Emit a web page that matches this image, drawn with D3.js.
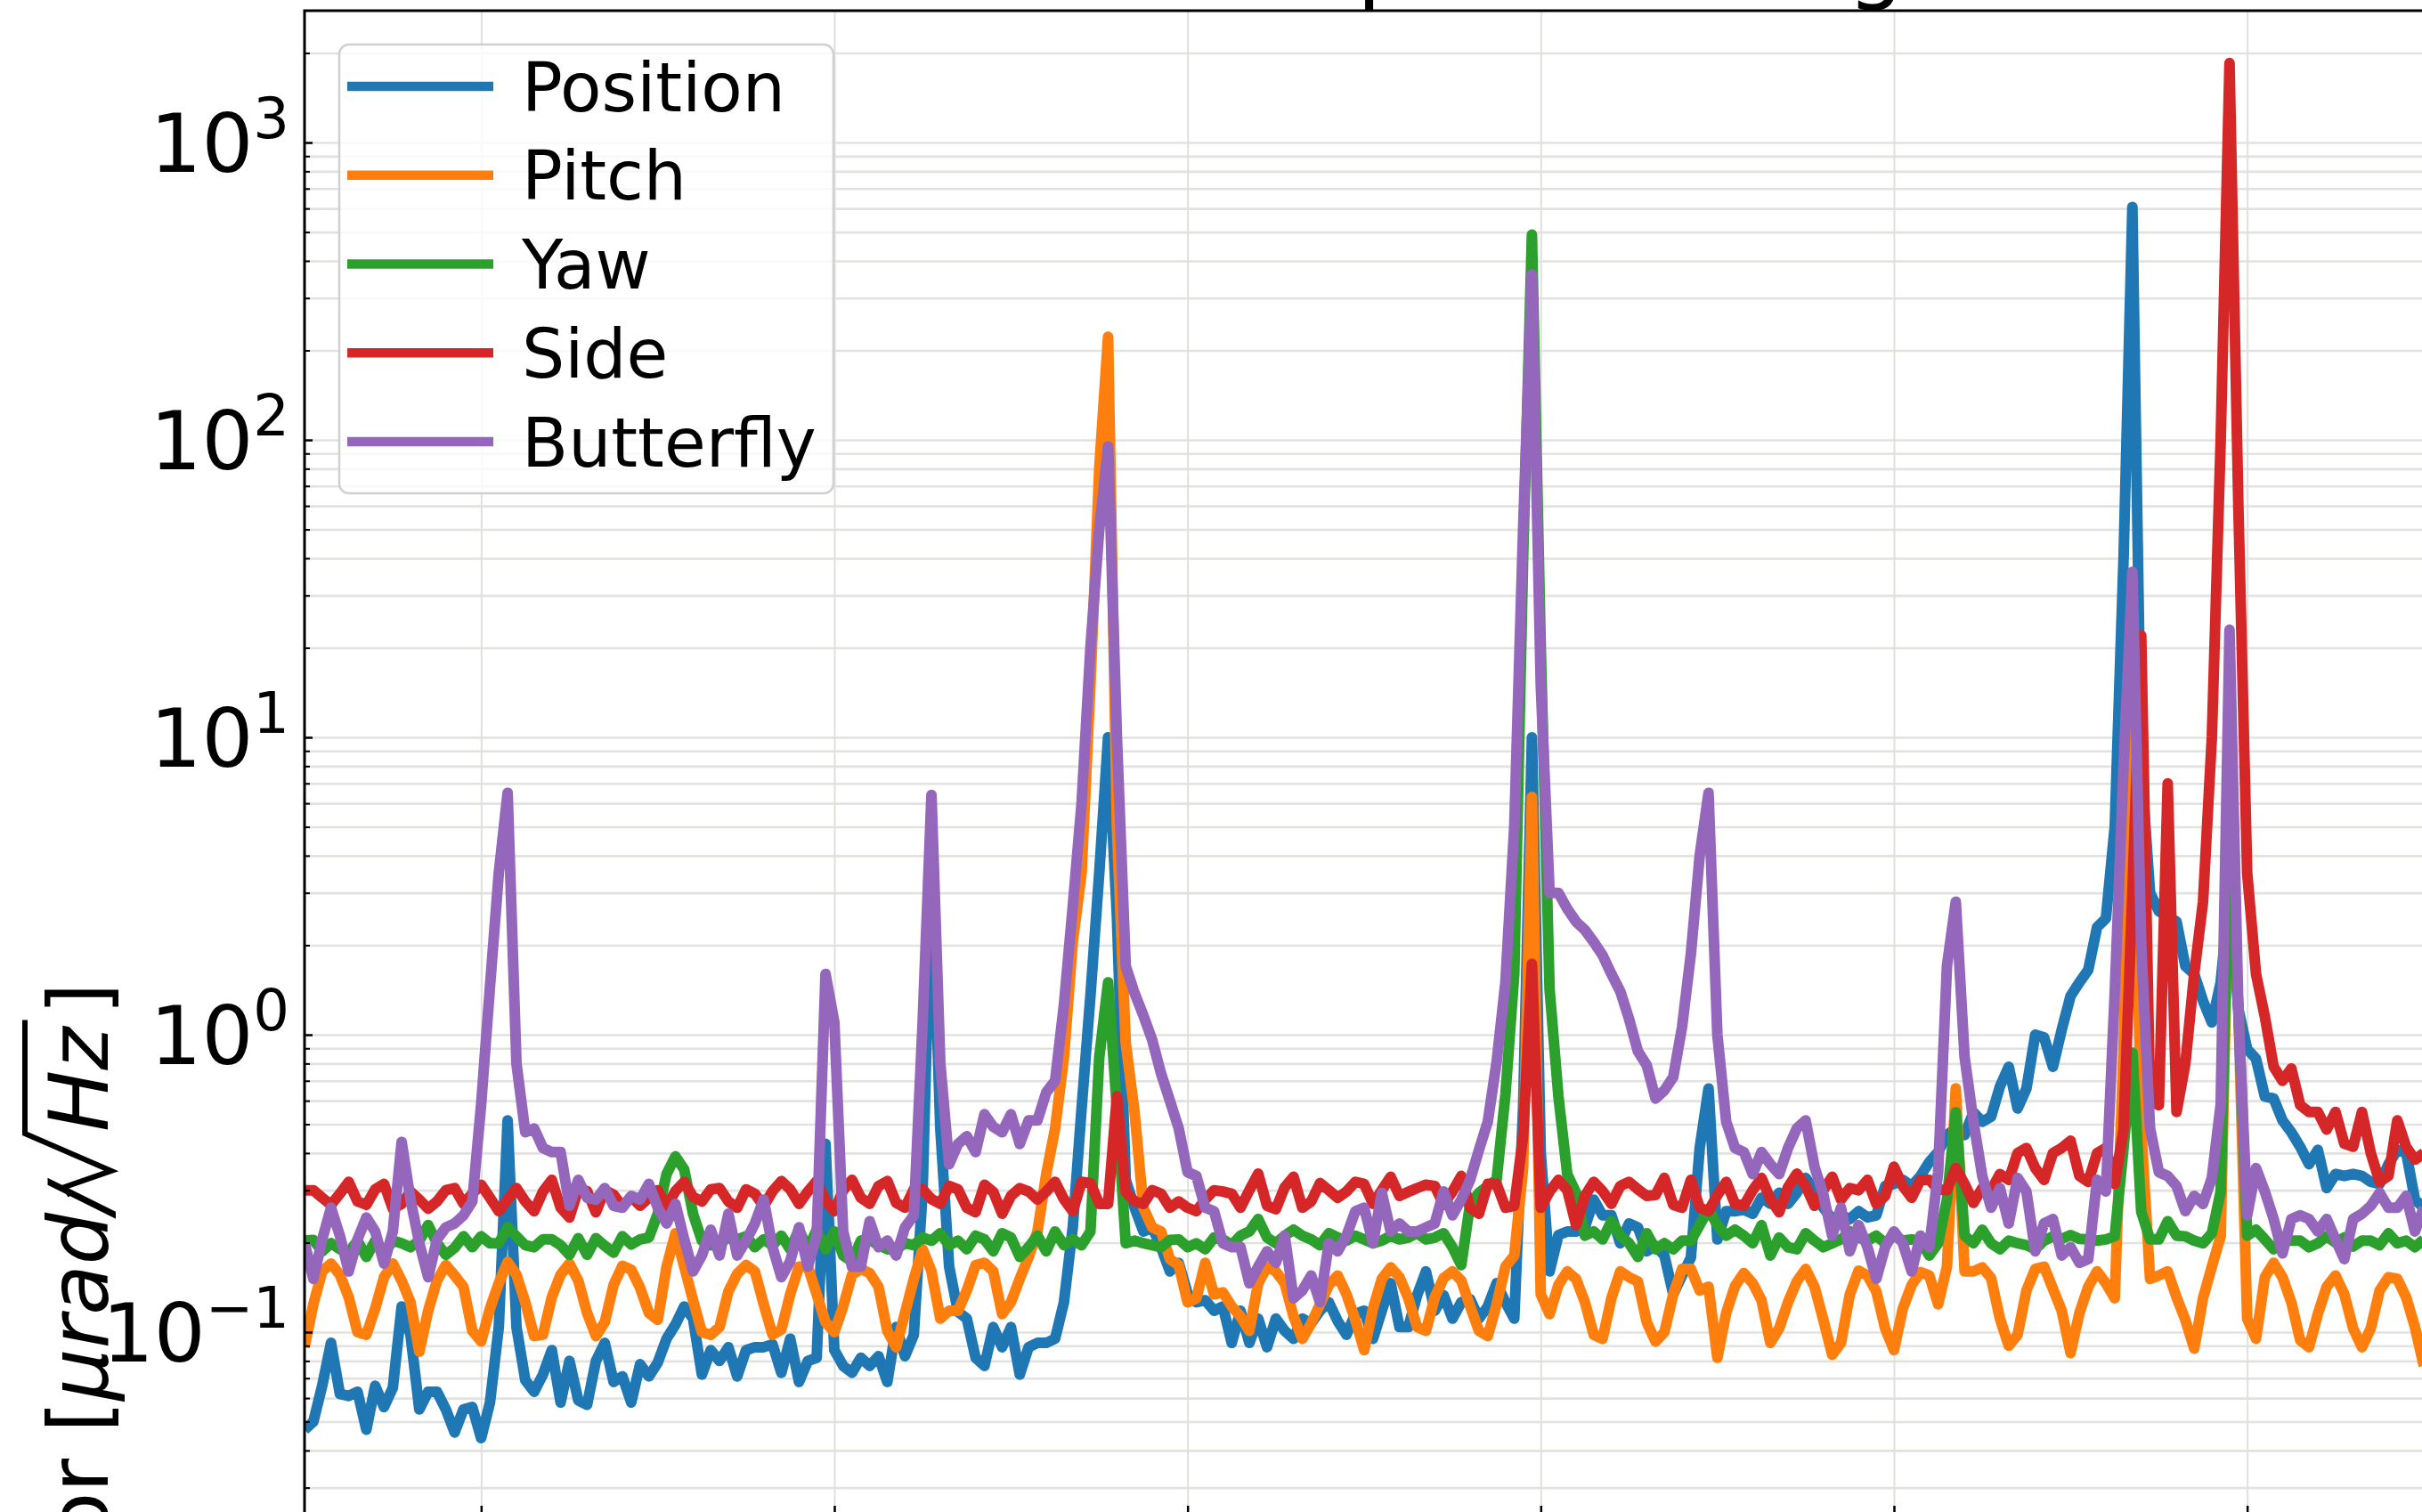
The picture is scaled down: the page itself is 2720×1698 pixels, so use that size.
<!DOCTYPE html>
<html>
<head>
<meta charset="utf-8">
<script src="https://cdn.jsdelivr.net/npm/d3@7"></script>
<style>
  body { margin: 0; background: #fff; }
  svg { display: block; font-family: 'DejaVu Sans', sans-serif; }
</style>
</head>
<body>
<div class="canvas"></div>
<script>
// frequency bins [Hz]
const freqStart = 5, freqStep = 0.25, nBins = 241
const freqs = d3.range(nBins).map(i => freqStart + i * freqStep)

// amplitude spectral densities
const position = [
  0.047, 0.050, 0.066, 0.092, 0.062, 0.061, 0.063, 0.047, 0.066, 0.056,
  0.065, 0.122, 0.098, 0.055, 0.063, 0.063, 0.055, 0.046, 0.055, 0.056,
  0.044, 0.058, 0.104, 0.515, 0.104, 0.069, 0.063, 0.072, 0.087, 0.058,
  0.080, 0.059, 0.057, 0.080, 0.092, 0.068, 0.071, 0.058, 0.078, 0.071,
  0.079, 0.095, 0.106, 0.122, 0.111, 0.072, 0.087, 0.080, 0.089, 0.071,
  0.087,
  0.089, 0.089, 0.091, 0.073, 0.095, 0.068, 0.080, 0.082, 0.43, 0.087,
  0.077, 0.073, 0.082, 0.077, 0.083, 0.068, 0.104, 0.083, 0.098, 0.30,
  4.0, 0.484, 0.166, 0.117, 0.111, 0.082, 0.077, 0.104, 0.089, 0.104,
  0.072, 0.089, 0.092, 0.092, 0.095, 0.126, 0.225, 0.565, 1.35, 3.5,
  10, 2.5, 0.325, 0.262, 0.218, 0.225, 0.193, 0.16,
  0.171, 0.135, 0.126, 0.128, 0.118, 0.122, 0.092, 0.118, 0.092, 0.111,
  0.089, 0.111, 0.101, 0.095, 0.111, 0.107, 0.118, 0.126, 0.109, 0.098,
  0.115, 0.118, 0.095, 0.118, 0.146, 0.104, 0.104, 0.133, 0.160, 0.118,
  0.133, 0.111, 0.126, 0.129, 0.111, 0.122, 0.146, 0.126, 0.111, 0.565,
  10, 0.40, 0.16, 0.212, 0.218, 0.218, 0.225, 0.279, 0.247,
  0.247, 0.199, 0.232, 0.225, 0.187, 0.195, 0.181, 0.134, 0.155, 0.178,
  0.416, 0.659, 0.205, 0.255, 0.255, 0.258, 0.25, 0.283, 0.27, 0.294,
  0.27, 0.294, 0.33, 0.30, 0.262, 0.24, 0.247, 0.24, 0.255, 0.243,
  0.247, 0.31, 0.315, 0.325, 0.31, 0.335, 0.373, 0.403, 0.46, 0.484,
  0.46, 0.548, 0.51, 0.53, 0.67, 0.78,
  0.565, 0.659, 1.0, 0.98, 0.78, 1.04, 1.35, 1.5, 1.65, 2.3,
  2.46, 5, 40, 607, 8, 3.0, 2.6, 2.5, 2.4, 1.7,
  1.6, 1.3, 1.1, 1.5, 3, 1.22, 0.895, 0.83, 0.62, 0.61,
  0.515, 0.47, 0.42, 0.367, 0.41, 0.305, 0.34, 0.335, 0.34, 0.335,
  0.32, 0.315, 0.367, 0.41, 0.403, 0.279, 0.262
]

const pitch = [
  0.089, 0.124, 0.16, 0.17, 0.156, 0.131, 0.1, 0.098, 0.12, 0.153,
  0.17, 0.149, 0.126, 0.086, 0.118, 0.149, 0.168, 0.155, 0.142, 0.101,
  0.093, 0.12, 0.146, 0.172, 0.156, 0.126, 0.097, 0.098, 0.131, 0.156,
  0.17, 0.149, 0.116, 0.097, 0.108, 0.144, 0.167, 0.162, 0.141, 0.116,
  0.11, 0.166, 0.215, 0.166, 0.128, 0.1, 0.098, 0.104, 0.137, 0.157,
  0.168,
  0.16, 0.124, 0.098, 0.102, 0.134, 0.166, 0.166, 0.134, 0.108, 0.1,
  0.122, 0.156, 0.163, 0.158, 0.142, 0.101, 0.089, 0.116, 0.151, 0.19,
  0.16, 0.111, 0.118, 0.118, 0.138, 0.168, 0.171, 0.16, 0.115, 0.126,
  0.151, 0.179, 0.218, 0.34, 0.484, 0.84, 2.05, 3.5, 15, 80,
  222, 5, 0.94, 0.548, 0.262, 0.225, 0.218, 0.176,
  0.168, 0.126, 0.13, 0.171, 0.134, 0.136, 0.122, 0.113, 0.101, 0.146,
  0.166, 0.16, 0.146, 0.113, 0.095, 0.107, 0.124, 0.144, 0.155, 0.134,
  0.11, 0.087, 0.12, 0.151, 0.165, 0.153, 0.13, 0.104, 0.101, 0.131,
  0.152, 0.16, 0.149, 0.122, 0.101, 0.097, 0.124, 0.166, 0.181, 0.356,
  6.3, 0.134, 0.115, 0.144, 0.16, 0.151, 0.126, 0.098, 0.095,
  0.13, 0.16, 0.153, 0.148, 0.108, 0.093, 0.1, 0.134, 0.163, 0.163,
  0.138, 0.142, 0.082, 0.116, 0.143, 0.158, 0.146, 0.128, 0.092, 0.103,
  0.126, 0.148, 0.163, 0.142, 0.11, 0.084, 0.092, 0.134, 0.161, 0.155,
  0.137, 0.103, 0.087, 0.12, 0.144, 0.159, 0.155, 0.124, 0.166, 0.66,
  0.16, 0.16, 0.165, 0.152, 0.111, 0.09,
  0.098, 0.138, 0.163, 0.166, 0.14, 0.118, 0.085, 0.116, 0.142, 0.16,
  0.146, 0.13, 0.9, 14, 0.48, 0.151, 0.155, 0.16, 0.131, 0.11,
  0.088, 0.13, 0.166, 0.21, 5, 1.22, 0.111, 0.095, 0.153, 0.171,
  0.153, 0.126, 0.094, 0.089, 0.115, 0.142, 0.155, 0.134, 0.103, 0.089,
  0.103, 0.138, 0.153, 0.151, 0.131, 0.104, 0.077
]

const yaw = [
  0.203, 0.204, 0.187, 0.199, 0.19, 0.185, 0.203, 0.179, 0.203, 0.184,
  0.203, 0.199, 0.193, 0.203, 0.229, 0.199, 0.182, 0.192, 0.21, 0.193,
  0.21, 0.199, 0.199, 0.225, 0.21, 0.196, 0.193, 0.205, 0.205, 0.196,
  0.182, 0.207, 0.182, 0.207, 0.195, 0.185, 0.21, 0.197, 0.205, 0.208,
  0.25, 0.34, 0.39, 0.352, 0.25, 0.203, 0.196, 0.199, 0.208, 0.205,
  0.21,
  0.193, 0.205, 0.196, 0.211, 0.19, 0.221, 0.19, 0.221, 0.19, 0.218,
  0.181, 0.173, 0.203, 0.205, 0.196, 0.19, 0.19, 0.199, 0.196, 0.208,
  0.203, 0.215, 0.196, 0.203, 0.19, 0.211, 0.205, 0.187, 0.215, 0.208,
  0.179, 0.193, 0.211, 0.187, 0.218, 0.196, 0.205, 0.196, 0.218, 0.84,
  1.5, 0.565, 0.199, 0.203, 0.199, 0.196, 0.193, 0.204,
  0.205, 0.193, 0.199, 0.19, 0.208, 0.205, 0.196, 0.211, 0.218, 0.24,
  0.208, 0.199, 0.211, 0.221, 0.211, 0.205, 0.196, 0.215, 0.208, 0.203,
  0.211, 0.205, 0.199, 0.203, 0.211, 0.205, 0.208, 0.215, 0.205, 0.208,
  0.215, 0.193, 0.168, 0.27, 0.294, 0.31, 0.325, 0.63, 1.6, 40,
  490, 20, 1.42, 0.62, 0.34, 0.294, 0.211, 0.218, 0.205,
  0.236, 0.211, 0.199, 0.179, 0.215, 0.19, 0.199, 0.19, 0.203, 0.203,
  0.229, 0.259, 0.229, 0.211, 0.221, 0.211, 0.199, 0.229, 0.181, 0.208,
  0.193, 0.19, 0.215, 0.203, 0.193, 0.199, 0.205, 0.218, 0.208, 0.203,
  0.211, 0.199, 0.211, 0.203, 0.205, 0.203, 0.181, 0.199, 0.279, 0.548,
  0.211, 0.199, 0.221, 0.199, 0.19, 0.203,
  0.199, 0.196, 0.19, 0.203, 0.21, 0.206, 0.212, 0.206, 0.205, 0.203,
  0.205, 0.21, 0.416, 0.87, 0.254, 0.205, 0.205, 0.236, 0.211, 0.21,
  0.203, 0.199, 0.215, 0.297, 5, 1.22, 0.211, 0.221, 0.205, 0.19,
  0.204, 0.203, 0.203, 0.193, 0.199, 0.21, 0.2, 0.208, 0.194, 0.203,
  0.203, 0.196, 0.215, 0.199, 0.203, 0.193, 0.205
]

const side = [
  0.3, 0.3, 0.283, 0.268, 0.292, 0.32, 0.275, 0.268, 0.302, 0.315,
  0.26, 0.27, 0.297, 0.279, 0.26, 0.275, 0.3, 0.305, 0.27, 0.292,
  0.313, 0.283, 0.255, 0.279, 0.305, 0.275, 0.255, 0.297, 0.325, 0.262,
  0.243, 0.302, 0.298, 0.253, 0.3, 0.29, 0.264, 0.285, 0.266, 0.283,
  0.3, 0.264, 0.298, 0.32, 0.285, 0.275, 0.302, 0.305, 0.275, 0.262,
  0.302,
  0.292, 0.265, 0.298, 0.322, 0.302, 0.27, 0.297, 0.322, 0.277, 0.255,
  0.3, 0.325, 0.283, 0.27, 0.31, 0.322, 0.272, 0.262, 0.302, 0.302,
  0.28, 0.27, 0.31, 0.302, 0.262, 0.253, 0.313, 0.296, 0.25, 0.287,
  0.305, 0.297, 0.279, 0.297, 0.32, 0.28, 0.255, 0.32, 0.317, 0.27,
  0.27, 0.62, 0.296, 0.275, 0.27, 0.3, 0.292, 0.262,
  0.275, 0.262, 0.255, 0.279, 0.3, 0.297, 0.292, 0.262, 0.3, 0.341,
  0.266, 0.259, 0.307, 0.333, 0.262, 0.275, 0.317, 0.3, 0.283, 0.297,
  0.32, 0.315, 0.27, 0.3, 0.333, 0.287, 0.296, 0.305, 0.313, 0.31,
  0.268, 0.297, 0.335, 0.262, 0.25, 0.315, 0.315, 0.262, 0.266, 0.456,
  1.73, 0.262, 0.297, 0.325, 0.3, 0.229, 0.287, 0.32, 0.298,
  0.27, 0.31, 0.32, 0.302, 0.287, 0.289, 0.33, 0.268, 0.262, 0.325,
  0.262, 0.255, 0.289, 0.32, 0.27, 0.266, 0.3, 0.33, 0.28, 0.253,
  0.307, 0.341, 0.31, 0.266, 0.3, 0.333, 0.279, 0.305, 0.3, 0.325,
  0.27, 0.287, 0.36, 0.31, 0.283, 0.325, 0.325, 0.302, 0.3, 0.356,
  0.315, 0.272, 0.305, 0.3, 0.34, 0.325,
  0.4, 0.416, 0.356, 0.325, 0.4, 0.416, 0.44, 0.335, 0.32, 0.4,
  0.416, 0.315, 0.48, 3, 22, 0.6, 0.58, 7, 0.55, 0.8,
  1.6, 2.8, 10, 100, 1850, 60, 3.5, 1.6, 1.15, 0.78,
  0.7, 0.77, 0.58, 0.55, 0.55, 0.48, 0.55, 0.43, 0.42, 0.55,
  0.4, 0.32, 0.335, 0.515, 0.42, 0.38, 0.4
]

const butterfly = [
  0.2, 0.151, 0.205, 0.262, 0.211, 0.16, 0.205, 0.243, 0.218, 0.17,
  0.218, 0.436, 0.279, 0.199, 0.153, 0.205, 0.225, 0.232, 0.247, 0.275,
  0.582, 1.45, 3.5, 6.5, 0.8, 0.47, 0.484, 0.416, 0.403, 0.403,
  0.266, 0.325, 0.283, 0.279, 0.305, 0.266, 0.262, 0.287, 0.279, 0.315,
  0.262, 0.232, 0.27, 0.205, 0.16, 0.181, 0.221, 0.181, 0.25, 0.181,
  0.203,
  0.232, 0.279, 0.193, 0.153, 0.173, 0.225, 0.166, 0.211, 1.6, 1.1,
  0.218, 0.166, 0.166, 0.236, 0.193, 0.203, 0.181, 0.225, 0.247, 1.1,
  6.4, 0.8, 0.367, 0.429, 0.456, 0.403, 0.54, 0.49, 0.47, 0.54,
  0.429, 0.515, 0.515, 0.64, 0.7, 1.26, 2.7, 6, 20, 50,
  95, 10, 1.7, 1.38, 1.16, 0.96, 0.74, 0.6,
  0.484, 0.345, 0.335, 0.262, 0.255, 0.199, 0.193, 0.193, 0.146, 0.166,
  0.187, 0.171, 0.211, 0.13, 0.138, 0.155, 0.126, 0.199, 0.187, 0.211,
  0.255, 0.262, 0.199, 0.294, 0.218, 0.232, 0.218, 0.218, 0.225, 0.232,
  0.297, 0.247, 0.279, 0.325, 0.41, 0.51, 0.81, 1.5, 5, 50,
  360, 15, 3.0, 3.0, 2.65, 2.4, 2.25, 2.05, 1.85,
  1.6, 1.4, 1.13, 0.88, 0.79, 0.61, 0.65, 0.72, 1.06, 1.87,
  4, 6.5, 1.0, 0.51, 0.416, 0.403, 0.34, 0.403, 0.367, 0.34,
  0.416, 0.484, 0.515, 0.36, 0.29, 0.211, 0.262, 0.187, 0.229, 0.193,
  0.151, 0.193, 0.218, 0.199, 0.16, 0.211, 0.193, 0.345, 1.7, 2.8,
  0.84, 0.51, 0.335, 0.262, 0.305, 0.232,
  0.33, 0.297, 0.187, 0.232, 0.24, 0.181, 0.193, 0.171, 0.176, 0.325,
  0.297, 1.38, 8, 36, 2.0, 0.484, 0.345, 0.335, 0.31, 0.255,
  0.287, 0.27, 0.33, 0.582, 23, 1.22, 0.247, 0.356, 0.297, 0.24,
  0.184, 0.24, 0.247, 0.24, 0.218, 0.24, 0.205, 0.176, 0.24, 0.25,
  0.266, 0.294, 0.262, 0.262, 0.287, 0.218, 0.262
]

const seriesNames = ['Position', 'Pitch', 'Yaw', 'Side', 'Butterfly']
const seriesValues = [position, pitch, yaw, side, butterfly]
const colors = ['#1f77b4', '#ff7f0e', '#2ca02c', '#d62728', '#9467bd']

const xTicks = [10, 20, 30, 40, 50, 60]
const yMajor = [0.1, 1, 10, 100, 1000]
const yExpLabels = ['\u22121', '0', '1', '2', '3']

// ---- layout
const W = 2720, H = 1698
const plotL = 342, plotR = 2722, plotT = 12, plotB = 1700

var svg = d3.select('.canvas').append('svg').attr('width', W).attr('height', H)

let x = d3.scaleLinear().domain([5, 65]).range([plotL, plotR])
let y = d3.scaleLog().domain([0.0245, 2775]).range([plotB, plotT])

// minor ticks 2..9 per decade, only those inside the axes
let yMinor = []
for (let e = -2; e <= 3; e++) {
  for (let m = 2; m <= 9; m++) {
    let v = m * Math.pow(10, e)
    if (v > 0.0245 && v < 2775) yMinor.push(v)
  }
}

// grid (major + minor)
let gy = svg.append('g').attr('transform', `translate(${plotL},0)`)
  .call(d3.axisLeft(y).tickValues(yMajor.concat(yMinor)).tickSize(-(plotR - plotL)).tickFormat(''))
gy.select('.domain').remove()
gy.selectAll('line').attr('stroke', '#e2e2de').attr('stroke-width', 2.6)

let gx = svg.append('g').attr('transform', `translate(0,${plotB})`)
  .call(d3.axisBottom(x).tickValues(xTicks).tickSize(-(plotB - plotT)).tickFormat(''))
gx.select('.domain').remove()
gx.selectAll('line').attr('stroke', '#e0e0dc').attr('stroke-width', 2)

// clip for the curves
svg.append('clipPath').attr('id', 'plotclip')
  .append('rect').attr('x', plotL).attr('y', plotT).attr('width', plotR - plotL).attr('height', plotB - plotT)

let line = d3.line().x(d => x(d[0])).y(d => y(d[1]))

for (let s = 0; s < seriesValues.length; s++) {
  let pts = freqs.map((f, i) => [f, seriesValues[s][i]])
  svg.append('path')
    .datum(pts)
    .attr('d', line)
    .attr('clip-path', 'url(#plotclip)')
    .attr('fill', 'none')
    .attr('stroke', colors[s])
    .attr('stroke-width', 12)
    .attr('stroke-linejoin', 'round')
}

// ticks (pointing in)
let ay = svg.append('g').attr('transform', `translate(${plotL},0)`)
  .call(d3.axisLeft(y).tickValues(yMajor).tickSizeInner(-9).tickSizeOuter(0).tickFormat(''))
ay.select('.domain').remove()
ay.selectAll('line').attr('stroke', '#000').attr('stroke-width', 2.5)

let ayMinor = svg.append('g').attr('transform', `translate(${plotL},0)`)
  .call(d3.axisLeft(y).tickValues(yMinor).tickSizeInner(-6).tickSizeOuter(0).tickFormat(''))
ayMinor.select('.domain').remove()
ayMinor.selectAll('line').attr('stroke', '#000').attr('stroke-width', 2)

let ax = svg.append('g').attr('transform', `translate(0,${plotB})`)
  .call(d3.axisBottom(x).tickValues(xTicks).tickSizeInner(-9).tickSizeOuter(0).tickFormat(''))
ax.select('.domain').remove()
ax.selectAll('line').attr('stroke', '#000').attr('stroke-width', 2.5)

// spines
svg.append('rect')
  .attr('x', plotL).attr('y', plotT).attr('width', plotR - plotL).attr('height', plotB - plotT)
  .attr('fill', 'none').attr('stroke', '#000').attr('stroke-width', 3)

// y tick labels 10^k
yMajor.forEach((v, i) => {
  let t = svg.append('text')
    .attr('x', plotL - 17)
    .attr('y', y(v) + 33)
    .attr('text-anchor', 'end')
    .attr('font-size', 91)
    .attr('fill', '#000')
  t.append('tspan').text('10')
  t.append('tspan').attr('font-size', 64).attr('dy', -38).text(yExpLabels[i])
})

// y label (only the end of it is inside the picture)
let ylab = svg.append('g').attr('transform', 'translate(121,1609) rotate(-90)')
  .attr('font-size', 92).attr('fill', '#000')
ylab.append('text').attr('x', -29).attr('text-anchor', 'end').text('Angular error')
let t1 = ylab.append('text').attr('x', 0)
t1.append('tspan').text('[')
t1.append('tspan').attr('font-style', 'italic').text('\u03bcrad/')
let w1 = t1.node().getComputedTextLength()
let rx = w1 - 12
let hz = ylab.append('text').attr('x', rx + 72).attr('font-style', 'italic').text('Hz')
let hzEnd = rx + 72 + hz.node().getComputedTextLength() + 8
ylab.append('path')
  .attr('d', `M${rx},-42 L${rx + 10},-48 L${rx + 28},4 L${rx + 70},-93 L${hzEnd},-93`)
  .attr('fill', 'none').attr('stroke', '#000').attr('stroke-width', 6).attr('stroke-linejoin', 'miter')
ylab.append('text').attr('x', hzEnd + 6).text(']')

// title, mostly above the picture (only descenders show)
let title = svg.append('text')
  .attr('y', -9)
  .attr('font-size', 100)
  .attr('fill', '#000')
  .text('Sensor noise for position in global coordinates')
let pIdx = title.text().indexOf('position')
let pPos = title.node().getStartPositionOfChar(pIdx).x
title.attr('x', 1524 - pPos)

// legend
let lg = svg.append('g')
lg.append('rect')
  .attr('x', 381).attr('y', 50).attr('width', 555).attr('height', 504)
  .attr('rx', 11).attr('ry', 11)
  .attr('fill', '#fff').attr('fill-opacity', 0.8)
  .attr('stroke', '#d0d0d0').attr('stroke-width', 2.5)

seriesNames.forEach((name, i) => {
  let ly = 97 + i * 99.75
  lg.append('line')
    .attr('x1', 390).attr('x2', 554).attr('y1', ly).attr('y2', ly)
    .attr('stroke', colors[i]).attr('stroke-width', 10.5)
  lg.append('text')
    .attr('x', 586).attr('y', ly + 27.5)
    .attr('font-size', 76)
    .attr('fill', '#000')
    .text(name)
})
</script>
</body>
</html>
